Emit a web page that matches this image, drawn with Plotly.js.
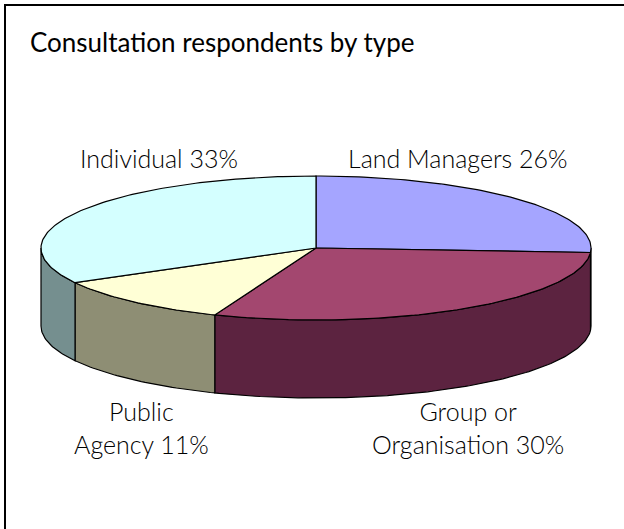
<!DOCTYPE html>
<html>
<head>
<meta charset="utf-8">
<script src="https://cdn.plot.ly/plotly-3.0.1.min.js"></script>
<style>html,body{margin:0;padding:0;background:#fff;}#chart{width:624px;height:529px;}</style>
</head>
<body>
<div id="chart"></div>
<script>
// ---- data ----
const categories = ['Land Managers', 'Group or Organisation', 'Public Agency', 'Individual'];
const labelText = ['Land Managers', 'Group or<br>Organisation', 'Public<br>Agency', 'Individual'];
const values = [26, 30, 11, 33];
const topColors = ['#A5A5FF', '#A3476F', '#FFFFD6', '#D4FFFF'];
const sideColors = ['#5A5A8C', '#5C2340', '#8E8E74', '#758F8F'];

// ---- geometry (layout of the 3D pie, in pixel-like axis units) ----
const cx = 316, cy = 248, rx = 275, ry = 72, depth = 78;
const total = values.reduce((a, b) => a + b, 0);
function pt(t, dy) {
  const r = t * Math.PI / 180;
  return [cx + rx * Math.sin(r), cy - ry * Math.cos(r) + (dy || 0)];
}
function arc(a, b, dy) {
  const xs = [], ys = [];
  const n = Math.max(2, Math.ceil(Math.abs(b - a) / 1));
  for (let i = 0; i <= n; i++) {
    const p = pt(a + (b - a) * i / n, dy);
    xs.push(p[0]); ys.push(p[1]);
  }
  return [xs, ys];
}

const walls = [], tops = [];
let start = 0;
values.forEach((v, i) => {
  const a = start, b = start + v / total * 360;
  start = b;
  const wa = Math.max(a, 90), wb = Math.min(b, 270);
  if (wb > wa) {
    const [x1, y1] = arc(wa, wb, 0);
    const [x2, y2] = arc(wb, wa, depth);
    walls.push({
      type: 'scatter', mode: 'lines', fill: 'toself',
      x: x1.concat(x2, [x1[0]]), y: y1.concat(y2, [y1[0]]),
      fillcolor: sideColors[i], line: {color: '#000', width: 1.2},
      hoverinfo: 'skip', showlegend: false
    });
  }
  const [xa, ya] = arc(a, b, 0);
  tops.push({
    type: 'scatter', mode: 'lines', fill: 'toself',
    x: [cx].concat(xa, [cx]), y: [cy].concat(ya, [cy]),
    fillcolor: topColors[i], line: {color: '#000', width: 1.2},
    name: categories[i], hoverinfo: 'name', showlegend: false
  });
});

const labelFont = {family: 'Lato, "Open Sans", sans-serif', size: 25, weight: 300, color: '#000'};
const labelPos = [[458, 158], [468, 427], [141, 427], [159, 158]];
const annotations = values.map((v, i) => ({
  xref: 'x', yref: 'y', x: labelPos[i][0], y: labelPos[i][1],
  text: labelText[i] + ' ' + v + '%', showarrow: false,
  font: labelFont, align: 'center', xanchor: 'center', yanchor: 'middle'
}));

const layout = {
  width: 624, height: 529,
  margin: {l: 0, r: 0, t: 0, b: 0},
  paper_bgcolor: '#fff', plot_bgcolor: '#fff',
  title: {text: 'Consultation respondents by type', x: 30 / 624, xanchor: 'left',
          y: 1 - 43 / 529, yanchor: 'middle',
          font: {family: 'Lato, "Open Sans", sans-serif', size: 26, weight: 400, color: '#000'}},
  xaxis: {range: [0, 624], visible: false, fixedrange: true},
  yaxis: {range: [529, 0], visible: false, fixedrange: true},
  shapes: [{type: 'rect', xref: 'x', yref: 'y', x0: 5, y0: 5, x1: 640, y1: 545,
            line: {color: '#000', width: 2}, fillcolor: 'rgba(0,0,0,0)'}],
  annotations: annotations,
  showlegend: false
};

Plotly.newPlot('chart', walls.concat(tops), layout, {displayModeBar: false, staticPlot: true});
</script>
</body>
</html>
